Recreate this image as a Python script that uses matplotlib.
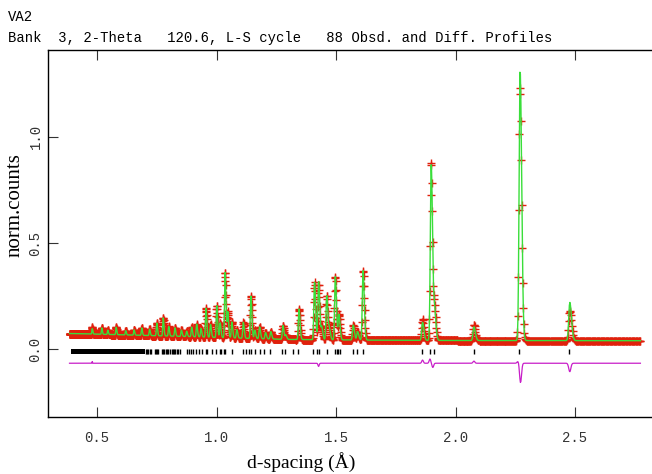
import numpy as np
import matplotlib
matplotlib.use("Agg")
import matplotlib.pyplot as plt

# ---- data -------------------------------------------------------------
# Bragg peaks: d-spacing (Å) and calculated height above background
peak_d = [0.480, 0.520, 0.545, 0.580, 0.620, 0.655, 0.687, 0.720, 0.750,
          0.777, 0.800, 0.826, 0.853, 0.875, 0.896, 0.917, 0.935, 0.956,
          0.975, 1.001, 1.015, 1.036, 1.047, 1.064, 1.085, 1.112, 1.144,
          1.160, 1.180, 1.205, 1.227, 1.278, 1.290, 1.345, 1.410, 1.427,
          1.440, 1.461, 1.472, 1.497, 1.512, 1.572, 1.590, 1.613, 1.862,
          1.898, 1.912, 2.077, 2.270, 2.478]
peak_h = [0.025, 0.030, 0.020, 0.035, 0.020, 0.025, 0.035, 0.030, 0.060,
          0.085, 0.045, 0.040, 0.030, 0.025, 0.045, 0.060, 0.040, 0.135,
          0.060, 0.150, 0.070, 0.310, 0.120, 0.075, 0.040, 0.075, 0.200,
          0.040, 0.055, 0.030, 0.035, 0.065, 0.020, 0.145, 0.270, 0.275,
          0.060, 0.210, 0.050, 0.300, 0.120, 0.070, 0.040, 0.330, 0.085,
          0.840, 0.140, 0.065, 1.280, 0.180]

# Observed-minus-calculated misfit at a few reflections
misfit_d = [0.480, 1.427, 1.862, 1.893, 1.905, 2.077, 2.262, 2.272, 2.478]
misfit_h = [0.008, -0.015, 0.015, 0.020, -0.020, 0.010, 0.010, -0.092, -0.040]

# Background level
bg_d = [0.38, 0.50, 0.70, 0.90, 1.10, 1.30, 1.60, 2.00, 2.80]
bg_v = [0.075, 0.072, 0.066, 0.060, 0.053, 0.047, 0.044, 0.042, 0.041]

# Reflection markers: a continuous band at short d, then individual ticks
refl_band = (0.390, 0.701)
refl_d = [0.705, 0.710, 0.715, 0.720, 0.725, 0.743, 0.748, 0.752, 0.757,
          0.771, 0.775, 0.782, 0.787, 0.792, 0.798, 0.805, 0.812, 0.818,
          0.822, 0.828, 0.834, 0.840, 0.847, 0.875, 0.885, 0.893, 0.900,
          0.913, 0.925, 0.940, 0.955, 0.962, 0.980, 0.998, 1.013, 1.020,
          1.030, 1.036, 1.063, 1.112, 1.125, 1.135, 1.144, 1.160, 1.180,
          1.200, 1.224, 1.273, 1.287, 1.321, 1.342, 1.405, 1.419, 1.430,
          1.461, 1.496, 1.503, 1.510, 1.517, 1.570, 1.589, 1.611, 1.861,
          1.893, 1.911, 2.077, 2.266, 2.476]

diff_offset = -0.065
d_start, d_end, d_step = 0.385, 2.775, 0.0009   # TOF-like constant Δd/d

# ---- profile ----------------------------------------------------------
n_pts = int(np.log(d_end / d_start) / np.log1p(d_step)) + 1
d = d_start * (1 + d_step) ** np.arange(n_pts)

def split_gauss(x, pos, amp):
    s_left = 0.0008 + 0.0014 * pos
    s_right = 0.0012 + 0.0024 * pos
    s = np.where(x < pos, s_left, s_right)
    return amp * np.exp(-0.5 * ((x - pos) / s) ** 2)

calc = np.interp(d, bg_d, bg_v)
for p, h in zip(peak_d, peak_h):
    calc = calc + split_gauss(d, p, h)

misfit = np.zeros_like(d)
for p, h in zip(misfit_d, misfit_h):
    misfit = misfit + h * np.exp(-0.5 * ((d - p) / (0.0018 * p)) ** 2)

obs = calc + misfit
diff = diff_offset + misfit

# ---- figure -----------------------------------------------------------
fig = plt.figure(figsize=(6.52, 4.74), dpi=100)
ax = fig.add_axes([48 / 652, 1 - 417 / 474, 1 - 48 / 652, (417 - 50) / 474])

ax.plot(d, obs, ls="none", marker="+", ms=6, mew=1.0, color="#e0200c", zorder=2)
ax.plot(d, calc, color="#3ade3a", lw=1.0, zorder=3)
ax.plot(d, diff, color="#c81ec8", lw=0.9, zorder=3)

tick_lo, tick_hi = -0.021, 0.003
ax.fill_between(refl_band, tick_lo, tick_hi, color="black", lw=0, zorder=3)
ax.vlines(refl_d, tick_lo, tick_hi, color="black", lw=1.0, zorder=3)

ax.set_xlim(0.295, 2.822)
ax.set_ylim(-0.318, 1.409)

mono = "Liberation Mono"
serif = "Liberation Serif"

ax.set_xticks([0.5, 1.0, 1.5, 2.0, 2.5])
ax.set_xticklabels(["0.5", "1.0", "1.5", "2.0", "2.5"], family=mono, fontsize=10)
ax.set_yticks([0.0, 0.5, 1.0])
ax.set_yticklabels(["0.0", "0.5", "1.0"], family=mono, fontsize=10,
                   rotation=90, va="center")
ax.tick_params(axis="x", which="both", direction="in", length=7, width=0.8,
               top=True, bottom=True, pad=10, colors="#333333")
ax.tick_params(axis="y", which="both", direction="in", length=7.5, width=0.8,
               left=True, right=False, pad=4, colors="#333333")

ax.spines["right"].set_visible(False)
for s in ("left", "top", "bottom"):
    ax.spines[s].set_linewidth(1.0)
    ax.spines[s].set_color("black")

fig.text(8 / 652, 1 - 21 / 474, "VA2", family=mono, fontsize=10, va="baseline")
fig.text(8 / 652, 1 - 42 / 474,
         "Bank  3, 2-Theta   120.6, L-S cycle   88 Obsd. and Diff. Profiles",
         family=mono, fontsize=10, va="baseline")
fig.text(15 / 652, 1 - 205 / 474, "norm.counts", family=serif, fontsize=15,
         rotation=90, ha="center", va="center")
fig.text(301 / 652, 1 - 462 / 474, "d-spacing (Å)", family=serif, fontsize=14,
         ha="center", va="center")

fig.savefig("out.png", dpi=100)
